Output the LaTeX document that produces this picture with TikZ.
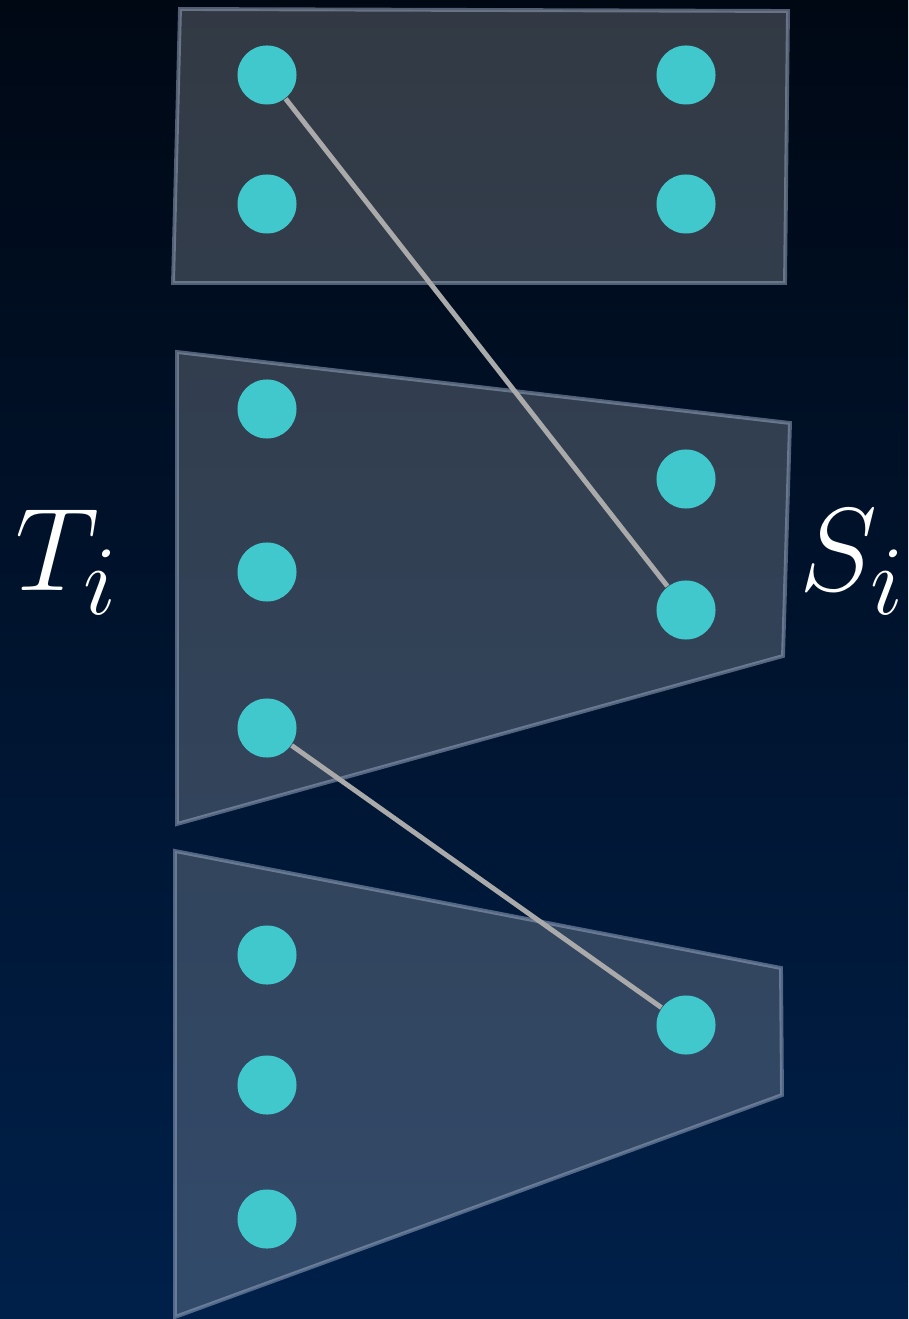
\documentclass[tikz,border=0pt]{standalone}
\usetikzlibrary{positioning}

\definecolor{bgtop}{RGB}{0,8,20}
\definecolor{bgbottom}{RGB}{0,32,74}
\definecolor{panelfill}{RGB}{183,186,192}
\definecolor{paneledge}{RGB}{150,165,190}
\definecolor{dotcyan}{RGB}{64,200,205}
\definecolor{linkgray}{RGB}{170,170,170}

\begin{document}
\begin{tikzpicture}[
        x=0.01cm, y=-0.01cm,
        % halbtransparente Felder
        panel/.style={fill=panelfill, fill opacity=0.28, draw=paneledge, draw opacity=0.55, line width=1.1pt, line join=miter},
        vertex/.style={circle, fill=dotcyan, minimum size=0.59cm, inner sep=0pt},
        link/.style={draw=linkgray, line width=1.4pt},
        setlabel/.style={text=white, font=\Huge, scale=1.35}
    ]
    % Hintergrund
    \shade[top color=bgtop, bottom color=bgbottom] (0,0) rectangle (908,1319);
    \useasboundingbox (0,0) rectangle (908,1319);

    % Felder
    \draw[panel] (180,9) -- (788,11) -- (785,283) -- (173,283) -- cycle;
    \draw[panel] (177,352) -- (790,423) -- (783,656) -- (177,824) -- cycle;
    \draw[panel] (175,851) -- (781,968) -- (782,1095) -- (175,1317) -- cycle;

    % Knoten links (T_i)
    \node[vertex] (t1) at (267,75) {};
    \node[vertex] (t2) at (267,204) {};
    \node[vertex] (t3) at (267,409) {};
    \node[vertex] (t4) at (267,572) {};
    \node[vertex] (t5) at (267,728) {};
    \node[vertex] (t6) at (267,955) {};
    \node[vertex] (t7) at (267,1085) {};
    \node[vertex] (t8) at (267,1219) {};
    % Knoten rechts (S_i)
    \node[vertex] (s1) at (686,75) {};
    \node[vertex] (s2) at (686,204) {};
    \node[vertex] (s3) at (686,479) {};
    \node[vertex] (s4) at (686,610) {};
    \node[vertex] (s5) at (686,1025) {};

    % Kanten
    \draw[link] (t1) -- (s4);
    \draw[link] (t5) -- (s5);

    % Beschriftung
    \node[setlabel] (tlabel) at (67,562) {$T_i$};
    \node[setlabel] (slabel) at (853,562) {$S_i$};
\end{tikzpicture}
\end{document}
